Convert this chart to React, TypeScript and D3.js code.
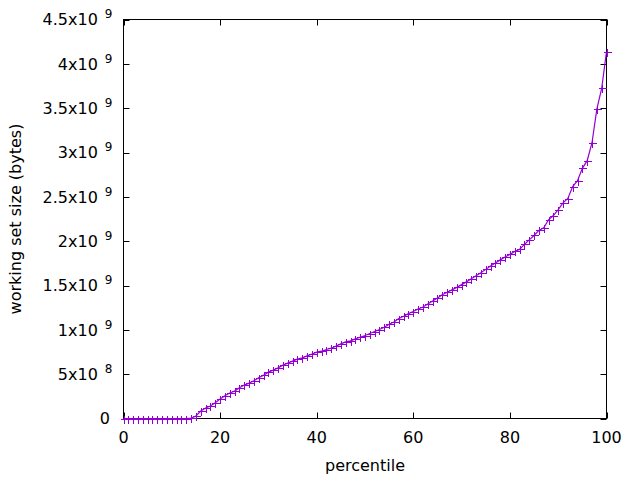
import React from "react";
import * as d3 from "d3";

// percentile 0..100, working set size in units of 1e9 bytes
const percentiles: number[] = d3.range(0, 101);
const wssGiga: number[] = [
  0, 0, 0, 0, 0, 0, 0, 0, 0, 0, 0, 0, 0, 0,
  0.005, 0.028, 0.084, 0.118, 0.14, 0.178, 0.219, 0.256, 0.287, 0.309,
  0.346, 0.377, 0.399, 0.425, 0.459, 0.489, 0.523, 0.546, 0.571, 0.602,
  0.624, 0.647, 0.669, 0.684, 0.706, 0.726, 0.748, 0.759, 0.778, 0.793,
  0.816, 0.842, 0.864, 0.875, 0.898, 0.917, 0.936, 0.958, 0.981, 1.003,
  1.029, 1.063, 1.089, 1.127, 1.153, 1.183, 1.206, 1.235, 1.258, 1.291,
  1.325, 1.36, 1.395, 1.423, 1.451, 1.479, 1.51, 1.541, 1.575, 1.609,
  1.643, 1.682, 1.721, 1.755, 1.789, 1.822, 1.851, 1.884, 1.907, 1.963,
  2.014, 2.064, 2.121, 2.151, 2.241, 2.289, 2.357, 2.432, 2.481, 2.616,
  2.683, 2.821, 2.908, 3.11, 3.49, 3.722, 4.138,
];

const xTicks: number[] = [0, 20, 40, 60, 80, 100];
const yTicks: number[] = [0, 5e8, 1e9, 1.5e9, 2e9, 2.5e9, 3e9, 3.5e9, 4e9, 4.5e9];
const yTickMantissa: string[] = ["0", "5x10", "1x10", "1.5x10", "2x10", "2.5x10", "3x10", "3.5x10", "4x10", "4.5x10"];
const yTickExponent: string[] = ["", "8", "9", "9", "9", "9", "9", "9", "9", "9"];

const xLabel = "percentile";
const yLabel = "working set size (bytes)";

const COLOR = "#9400D3";
const FONT = "'DejaVu Sans', sans-serif";

export default function App() {
  const W = 640, H = 480;
  const left = 123.5, right = 606.5, top = 19.5, bottom = 418.5;
  const x = d3.scaleLinear().domain([0, 100]).range([left, right]);
  const y = d3.scaleLinear().domain([0, 4.5e9]).range([bottom, top]);

  const data = percentiles.map((p, i) => ({ p, v: wssGiga[i] * 1e9 }));
  const line = d3.line<{ p: number; v: number }>().x(d => x(d.p)).y(d => y(d.v));
  const tick = 6;
  const m = 4;
  const px = (v: number) => Math.round(v) + 0.5;

  return (
    <svg width={W} height={H} style={{ position: "absolute", left: 0, top: 0, background: "#fff" }} fontFamily={FONT}>
      <rect x={0} y={0} width={W} height={H} fill="#fff" />
      {/* ticks */}
      {xTicks.map(t => (
        <g key={"xt" + t}>
          <line x1={px(x(t))} x2={px(x(t))} y1={bottom} y2={bottom - tick} stroke="#000" />
          <line x1={px(x(t))} x2={px(x(t))} y1={top} y2={top + tick} stroke="#000" />
          <text x={x(t)} y={443.3} textAnchor="middle" fontSize={16} fill="#000">{t}</text>
        </g>
      ))}
      {yTicks.map((t, i) => (
        <g key={"yt" + t}>
          <line x1={left} x2={left + tick} y1={px(y(t))} y2={px(y(t))} stroke="#000" />
          <line x1={right} x2={right - tick} y1={px(y(t))} y2={px(y(t))} stroke="#000" />
          <text x={yTickExponent[i] ? 112.5 : 110} y={y(t) + 5.8} textAnchor="end" fontSize={16} fill="#000">
            <tspan>{yTickMantissa[i]}</tspan>
            {yTickExponent[i] ? (
              <tspan dx={7} dy={-7} fontSize={12}>{yTickExponent[i]}</tspan>
            ) : null}
          </text>
        </g>
      ))}
      {/* frame */}
      <rect x={left} y={top} width={right - left} height={bottom - top} fill="none" stroke="#000" />
      {/* series */}
      <path d={line(data) || ""} fill="none" stroke={COLOR} strokeWidth={1.2} />
      {data.map(d => (
        <g key={"pt" + d.p} stroke={COLOR} strokeWidth={1} shapeRendering="crispEdges">
          <line x1={px(x(d.p)) - m} x2={px(x(d.p)) + m} y1={px(y(d.v))} y2={px(y(d.v))} />
          <line x1={px(x(d.p))} x2={px(x(d.p))} y1={px(y(d.v)) - m} y2={px(y(d.v)) + m} />
        </g>
      ))}
      {/* axis labels */}
      <text x={(left + right) / 2} y={470.5} textAnchor="middle" fontSize={16} fill="#000">{xLabel}</text>
      <text transform={`translate(21,${(top + bottom) / 2}) rotate(-90)`} textAnchor="middle" fontSize={16} fill="#000">{yLabel}</text>
    </svg>
  );
}
